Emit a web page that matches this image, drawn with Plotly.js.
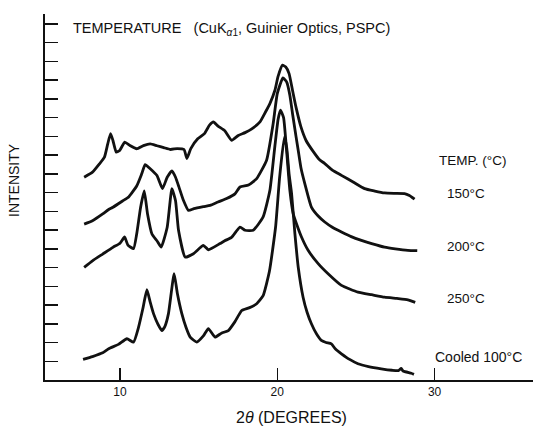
<!DOCTYPE html>
<html>
<head>
<meta charset="utf-8">
<script src="https://cdn.plot.ly/plotly-3.0.1.min.js"></script>
<style>
html,body{margin:0;padding:0;background:#fff;}
#chart{width:533px;height:430px;}
</style>
</head>
<body>
<div id="chart"></div>
<script>
// 2-theta (degrees) and intensity (arbitrary, stacked)
const x150 = [7.72, 8.25, 8.69, 9.01, 9.22, 9.40, 9.55, 9.76, 9.98, 10.30, 10.63, 11.06, 11.49, 11.92, 12.35, 12.78, 13.21, 13.64, 14.07, 14.25, 14.50, 14.94, 15.37, 15.69, 15.94, 16.23, 16.66, 17.10, 17.52, 17.95, 18.38, 18.90, 19.25, 19.53, 19.85, 20.05, 20.33, 20.54, 20.75, 20.97, 21.19, 21.51, 21.83, 22.28, 22.69, 23.02, 23.50, 24.08, 24.85, 25.55, 26.20, 26.82, 27.44, 28.09, 28.40, 28.73];
const y150 = [10.82, 11.09, 11.53, 11.89, 12.60, 13.15, 12.78, 12.16, 12.25, 12.69, 12.51, 12.34, 12.51, 12.60, 12.50, 12.40, 12.30, 12.35, 12.30, 11.82, 12.35, 12.87, 13.15, 13.60, 13.77, 13.55, 13.30, 12.79, 13.05, 13.20, 13.40, 13.77, 14.30, 14.75, 15.46, 16.20, 16.80, 16.70, 16.35, 15.45, 14.56, 13.49, 12.78, 12.20, 11.75, 11.55, 11.20, 10.92, 10.55, 10.21, 10.08, 9.98, 9.96, 9.95, 9.85, 9.65];

const x200 = [7.72, 8.25, 8.90, 9.28, 9.55, 10.19, 10.55, 11.06, 11.38, 11.60, 11.92, 12.35, 12.70, 13.00, 13.30, 13.53, 13.75, 14.03, 14.35, 14.70, 15.30, 15.73, 16.23, 16.78, 17.31, 17.63, 18.17, 18.69, 19.32, 19.74, 20.00, 20.36, 20.60, 20.80, 20.97, 21.19, 21.33, 21.51, 21.75, 22.17, 22.60, 23.02, 23.50, 24.08, 24.70, 25.35, 26.00, 26.82, 27.50, 28.30, 28.90];
const y200 = [8.32, 8.50, 8.86, 9.10, 9.22, 9.57, 9.77, 10.35, 11.00, 11.49, 11.27, 10.91, 10.21, 10.82, 11.16, 10.82, 10.29, 9.59, 9.05, 9.14, 9.25, 9.32, 9.50, 9.68, 9.93, 10.30, 10.40, 10.75, 11.73, 13.69, 15.28, 16.12, 15.90, 15.20, 14.21, 13.00, 12.26, 11.30, 10.48, 9.23, 8.75, 8.43, 8.15, 7.90, 7.65, 7.45, 7.28, 7.09, 7.00, 6.92, 6.90];

const x250 = [7.72, 8.25, 8.90, 9.55, 10.00, 10.29, 10.50, 10.86, 11.06, 11.31, 11.54, 11.75, 12.03, 12.35, 12.62, 13.00, 13.30, 13.53, 13.72, 14.14, 14.67, 15.30, 15.62, 16.36, 16.66, 17.09, 17.63, 17.95, 18.47, 19.10, 19.53, 19.85, 20.05, 20.20, 20.40, 20.59, 20.80, 21.01, 21.22, 21.54, 21.96, 22.60, 23.23, 24.08, 25.13, 26.00, 26.82, 27.60, 28.30, 28.77];
const y250 = [6.01, 6.36, 6.72, 7.08, 7.30, 7.63, 7.20, 7.01, 7.79, 9.22, 10.09, 8.86, 7.79, 7.43, 7.09, 8.15, 10.21, 9.57, 7.99, 6.56, 6.74, 7.18, 6.95, 7.28, 7.43, 7.61, 8.16, 7.99, 7.99, 8.70, 10.12, 12.50, 13.90, 14.40, 14.00, 12.26, 10.12, 8.88, 8.34, 7.63, 6.92, 6.21, 5.67, 5.05, 4.69, 4.55, 4.42, 4.35, 4.28, 4.14];

const xCooled = [7.65, 8.25, 8.90, 9.28, 9.90, 10.44, 10.86, 11.18, 11.45, 11.71, 11.92, 12.13, 12.40, 12.66, 12.85, 13.08, 13.44, 13.65, 13.93, 14.20, 14.46, 14.88, 15.30, 15.62, 16.04, 16.45, 16.89, 17.30, 17.74, 18.20, 18.69, 19.10, 19.50, 19.89, 20.15, 20.45, 20.60, 20.75, 20.91, 21.12, 21.33, 21.64, 21.90, 22.17, 22.50, 22.80, 23.10, 23.44, 23.70, 24.08, 24.60, 25.13, 25.80, 26.61, 27.30, 27.70, 27.88, 28.00, 28.52, 28.69];
const yCooled = [1.10, 1.25, 1.45, 1.67, 1.90, 2.20, 2.02, 2.82, 3.80, 4.82, 4.15, 3.54, 3.00, 2.64, 2.85, 3.54, 5.67, 4.60, 3.54, 2.80, 2.29, 2.02, 2.35, 2.74, 2.29, 2.50, 2.64, 3.10, 3.71, 3.85, 4.07, 4.50, 5.80, 8.15, 10.82, 12.97, 12.40, 11.00, 9.95, 7.81, 6.03, 4.42, 3.60, 3.00, 2.45, 2.11, 2.00, 1.93, 1.65, 1.40, 1.10, 0.87, 0.72, 0.60, 0.52, 0.50, 0.62, 0.48, 0.36, 0.30];

const seriesLabels = ['150°C', '200°C', '250°C', 'Cooled 100°C'];
const xTickVals = [10, 20, 30];
const xTickText = ['10', '20', '30'];
const yTickVals = [1,2,3,4,5,6,7,8,9,10,11,12,13,14,15,16,17,18,19,19.53];

const FONT = 'Liberation Sans, Arial, Helvetica, sans-serif';
const line = {color: '#111', width: 2.8, shape: 'spline', smoothing: 0.45};

const traces = [
  {x: x150, y: y150, name: seriesLabels[0]},
  {x: x200, y: y200, name: seriesLabels[1]},
  {x: x250, y: y250, name: seriesLabels[2]},
  {x: xCooled, y: yCooled, name: seriesLabels[3]}
].map(t => Object.assign(t, {type: 'scatter', mode: 'lines', line: line, hoverinfo: 'skip'}));

// pixel helpers for annotation placement (plot area: x 45..533, y 14..380)
const px = v => (v - 45) / 488;
const py = v => (380 - v) / 366;
const ann = (text, x, y, size, xanchor, extra) => Object.assign({
  text: text, xref: 'paper', yref: 'paper', x: px(x), y: py(y),
  xanchor: xanchor || 'center', yanchor: 'middle', showarrow: false,
  font: {family: FONT, size: size, color: '#111'}
}, extra || {});

const layout = {
  width: 533, height: 430,
  margin: {l: 45, r: 0, t: 14, b: 50, pad: 0},
  paper_bgcolor: '#fff', plot_bgcolor: '#fff',
  showlegend: false,
  xaxis: {
    range: [5.23, 36.26], tickmode: 'array', tickvals: xTickVals, ticktext: xTickText,
    ticks: 'inside', ticklen: 12, tickwidth: 1.5, tickcolor: '#111',
    showline: true, linewidth: 2, linecolor: '#111',
    showgrid: false, zeroline: false,
    tickfont: {family: FONT, size: 12, color: '#111'}
  },
  yaxis: {
    range: [0, 19.53], tickmode: 'array', tickvals: yTickVals,
    ticks: 'inside', ticklen: 13, tickwidth: 1.5, tickcolor: '#111',
    showticklabels: false,
    showline: true, linewidth: 2, linecolor: '#111',
    showgrid: false, zeroline: false
  },
  annotations: [
    ann('TEMPERATURE\u00a0\u00a0\u00a0(CuK<sub><i>α</i>1</sub>, Guinier Optics, PSPC)', 71, 29, 14.5, 'left'),
    ann('TEMP. (°C)', 472, 160, 13.5),
    ann(seriesLabels[0], 466, 193, 13.5),
    ann(seriesLabels[1], 466, 246, 13.5),
    ann(seriesLabels[2], 466, 298, 13.5),
    ann(seriesLabels[3], 478, 357, 14),
    ann('INTENSITY', 14, 180, 14, 'center', {textangle: -90}),
    ann('2<i>θ</i> (DEGREES)', 291, 418, 16)
  ]
};

Plotly.newPlot('chart', traces, layout, {staticPlot: true, displayModeBar: false});
</script>
</body>
</html>
